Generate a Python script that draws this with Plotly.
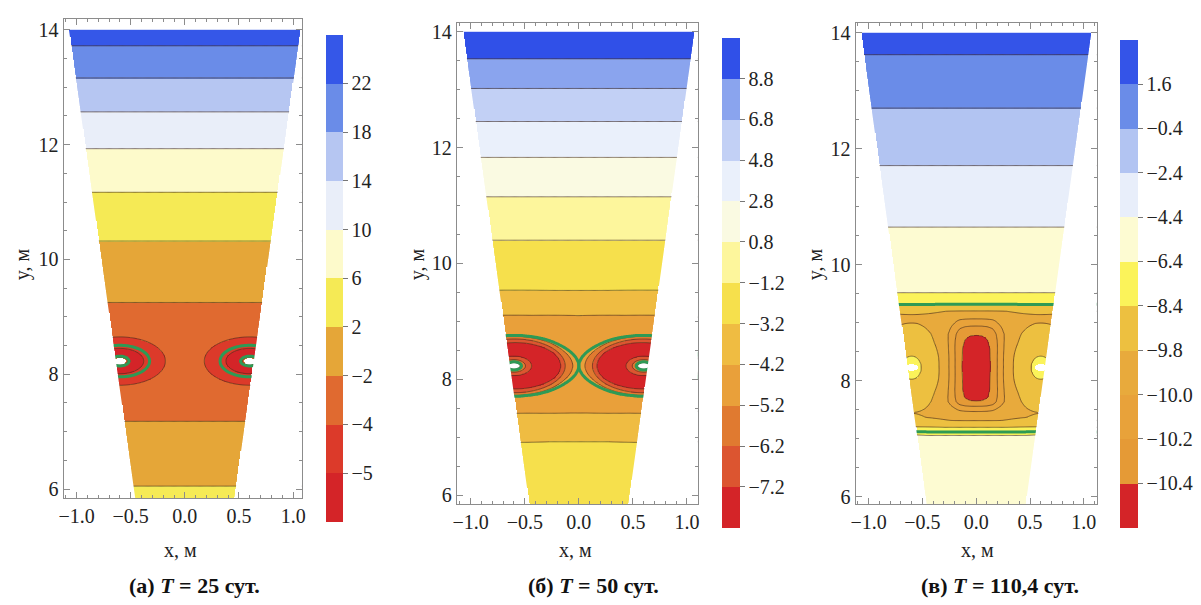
import numpy as np
import plotly.graph_objects as go

FONT = "Liberation Serif, Times New Roman, serif"

# ---------------- domain geometry (trapezoidal cross-section) ----------------
DOMAIN_Y = [5.70, 14.00]
DOMAIN_HALF_WIDTH = [0.447, 1.07]
TUBE_X = [-0.60, 0.60]
TUBE_Y = 8.23
HOLE_R = 0.055

# ---------------- panel (а)  T = 25 сут. ----------------
A_LEVELS = [-5, -4, -2, 2, 6, 10, 14, 18, 22]
A_COLORS = ['#d42428', '#dc3a2a', '#e06a30', '#e5a638', '#f5ea55',
            '#fdfacb', '#e9eef9', '#b6c6f2', '#6a8ce8', '#3557e8']
# heights (centre line) where the isotherms cross, in level-index units
A_PROFILE_Y = [5.70, 6.05, 7.18, 7.60, 8.80, 9.25, 10.32, 11.17, 11.93, 12.57, 13.16, 13.72, 14.00]
A_PROFILE_K = [4.45, 4.00, 3.00, 2.55, 2.55, 3.00, 4.00, 5.00, 6.00, 7.00, 8.00, 9.00, 9.50]
A_TUBE_R = [0.0, 0.055, 0.075, 0.10, 0.14, 0.22, 0.32, 0.42, 0.52, 0.65]
A_TUBE_DK = [0.15, 0.15, -0.85, -1.90, -2.10, -1.55, -1.00, -0.55, -0.20, 0.0]
A_GREEN = [(5.70, 14.00, 1.30)]

# ---------------- panel (б)  T = 50 сут. ----------------
B_LEVELS = [-7.2, -6.2, -5.2, -4.2, -3.2, -1.2, 0.8, 2.8, 4.8, 6.8, 8.8]
B_COLORS = ['#d42428', '#dc5530', '#e07a30', '#e9a03a', '#efbc42', '#f6e04c',
            '#fdf69c', '#fafae2', '#eaf0fb', '#c2d0f5', '#8aa4ee', '#3050e8']
B_PROFILE_Y = [5.70, 6.92, 7.42, 7.75, 8.23, 8.70, 9.10, 9.53, 10.40, 11.15, 11.83, 12.45, 13.02, 13.53, 14.00]
B_PROFILE_K = [5.50, 5.00, 4.12, 3.78, 3.70, 3.75, 4.10, 5.00, 6.00, 7.00, 8.00, 9.00, 10.00, 11.00, 11.60]
B_TUBE_R = [0.0, 0.05, 0.08, 0.12, 0.17, 0.30, 0.43, 0.47, 0.52, 0.56, 0.60, 0.85, 1.05, 1.35]
B_TUBE_DK = [0.6, 0.6, -1.0, -2.0, -2.75, -3.2, -2.6, -1.6, -0.6, -0.4, -0.25, -0.12, -0.05, 0.0]
B_GREEN = [(5.70, 14.00, 3.20)]

# ---------------- panel (в)  T = 110,4 сут. ----------------
C_LEVELS = [-10.4, -10.2, -10.0, -9.8, -8.4, -6.4, -4.4, -2.4, -0.4, 1.6]
C_COLORS = ['#d42428', '#e59a36', '#e8a23a', '#e8aa3c', '#edc040', '#fbf35a',
            '#fdfbd2', '#e8eefa', '#b2c4f2', '#6a8ce8', '#3454e8']
C_PROFILE_Y = [5.70, 7.00, 7.12, 7.20, 7.32, 7.45, 8.25, 9.05, 9.20, 9.32, 9.52, 10.65, 11.71, 12.70, 13.62, 14.00]
C_PROFILE_K = [6.40, 6.10, 5.90, 5.00, 4.00, 3.70, 3.55, 3.70, 4.00, 5.00, 6.00, 7.00, 8.00, 9.00, 10.00, 10.40]
C_TUBE_R = [0.0, 0.05, 0.09, 0.20, 0.30, 0.45, 0.60]
C_TUBE_DK = [2.3, 2.2, 1.45, 1.00, 0.55, 0.12, 0.0]
C_TUBE_ANISO = 2.0
C_CORE_X = [0.0, 0.05, 0.10, 0.15, 0.18, 0.21, 0.25, 0.30, 0.35, 0.42, 0.55]
C_CORE_DK = [3.0, 2.98, 2.85, 2.55, 2.10, 1.55, 1.00, 0.55, 0.28, 0.10, 0.0]
C_CORE_Y = [7.30, 7.40, 7.47, 7.52, 7.56, 7.60, 7.64, 7.72, 7.85, 8.55, 8.70, 8.80, 8.88, 8.95, 9.02, 9.08, 9.15, 9.22]
C_CORE_W = [0.0, 0.08, 0.22, 0.38, 0.55, 0.72, 0.87, 0.96, 1.0, 1.0, 0.95, 0.87, 0.72, 0.55, 0.36, 0.22, 0.08, 0.0]
C_GREEN = [(5.70, 7.60, 5.90), (8.90, 14.00, 5.00)]

TITLES = ['(а) <i>T</i> = 25 сут.', '(б) <i>T</i> = 50 сут.', '(в) <i>T</i> = 110,4 сут.']
LABEL_FMT = ['%d', '%.1f', '%.1f']

# ---------------- grid ----------------
gx = np.round(np.arange(-1.15, 1.1501, 0.01), 4)
gy = np.round(np.arange(DOMAIN_Y[0], DOMAIN_Y[1] + 1e-9, 0.02), 4)
X, Y = np.meshgrid(gx, gy)
HW = np.interp(Y, DOMAIN_Y, DOMAIN_HALF_WIDTH)


def build_field(py, pk, tr, tdk, aniso=1.0, core=None):
    F = np.interp(Y, py, pk)
    for tx in TUBE_X:
        r = np.sqrt((X - tx) ** 2 + ((Y - TUBE_Y) / aniso) ** 2)
        F = F + np.interp(r, tr, tdk)
    if core is not None:
        cx, cdk, cy, cw = core
        F = F - np.interp(np.abs(X), cx, cdk) * np.interp(Y, cy, cw)
    return F


def masked(F):
    Z = F.copy()
    out = np.abs(X) > HW
    for tx in TUBE_X:
        out |= np.sqrt((X - tx) ** 2 + (Y - TUBE_Y) ** 2) < HOLE_R
    Z[out] = np.nan
    return Z.astype(np.float32)


panels = [
    dict(levels=A_LEVELS, colors=A_COLORS, green=A_GREEN,
         F=build_field(A_PROFILE_Y, A_PROFILE_K, A_TUBE_R, A_TUBE_DK)),
    dict(levels=B_LEVELS, colors=B_COLORS, green=B_GREEN,
         F=build_field(B_PROFILE_Y, B_PROFILE_K, B_TUBE_R, B_TUBE_DK)),
    dict(levels=C_LEVELS, colors=C_COLORS, green=C_GREEN,
         F=build_field(C_PROFILE_Y, C_PROFILE_K, C_TUBE_R, C_TUBE_DK, C_TUBE_ANISO,
                       (C_CORE_X, C_CORE_DK, C_CORE_Y, C_CORE_W))),
]

# ---------------- layout geometry (paper fractions) ----------------
XDOM = [[0.0491, 0.2490], [0.3789, 0.5812], [0.7136, 0.9159]]
YDOM = [[0.1719, 0.9719], [0.1620, 0.9653], [0.1620, 0.9653]]
XRANGE = [[-1.12, 1.08], [-1.13, 1.10], [-1.12, 1.12]]
YRANGE = [[5.845, 14.19], [5.846, 14.154], [5.88, 14.17]]
CBAR = [dict(x=0.2689, y=0.5388, len=0.813, thickness=17),
        dict(x=0.6012, y=0.5314, len=0.818, thickness=18),
        dict(x=0.9351, y=0.5298, len=0.815, thickness=18)]
CAP_X = [0.159, 0.494, 0.835]
XT_X = [177, 575, 980]
YT_X = [17, 415, 816]

fig = go.Figure()


def fmt(v, f):
    return (f % v).replace('-', '\u2212')


for i, p in enumerate(panels):
    xa = 'x' if i == 0 else 'x%d' % (i + 1)
    ya = 'y' if i == 0 else 'y%d' % (i + 1)
    n = len(p['colors'])
    cs = []
    for j, c in enumerate(p['colors']):
        cs.append([j / n, c])
        cs.append([(j + 1) / n, c])
    fig.add_trace(go.Heatmap(
        x=gx, y=gy, z=masked(p['F']), zmin=0, zmax=n, colorscale=cs, zsmooth=False,
        xaxis=xa, yaxis=ya, hoverinfo='skip',
        colorbar=dict(x=CBAR[i]['x'], xanchor='left', y=CBAR[i]['y'], yanchor='middle',
                      len=CBAR[i]['len'], lenmode='fraction', thickness=CBAR[i]['thickness'],
                      thicknessmode='pixels', xpad=0, ypad=0, outlinewidth=0,
                      tickmode='array', tickvals=list(range(1, n)),
                      ticktext=[fmt(v, LABEL_FMT[i]) for v in p['levels']],
                      ticks='outside', ticklen=5, tickcolor='#777', tickwidth=1,
                      tickfont=dict(family=FONT, size=20, color='#222'))))
    fig.add_trace(go.Contour(
        x=gx, y=gy, z=p['F'].astype(np.float32), autocontour=False,
        contours=dict(start=1, end=n - 1, size=1, coloring='none'),
        line=dict(color='rgba(70,45,30,0.8)', width=0.8, smoothing=0.8),
        showscale=False, hoverinfo='skip', xaxis=xa, yaxis=ya))
    for (ylo, yhi, lev) in p['green']:
        sel = (gy >= ylo - 1e-9) & (gy <= yhi + 1e-9)
        fig.add_trace(go.Contour(
            x=gx, y=gy[sel], z=p['F'][sel].astype(np.float32), autocontour=False,
            contours=dict(start=lev, end=lev, size=1, coloring='none'),
            line=dict(color='#2e9a55', width=3, smoothing=0.8),
            showscale=False, hoverinfo='skip', xaxis=xa, yaxis=ya))
    # white masks outside the trapezoid
    y0, y1 = -2.0, 16.0
    slope = (DOMAIN_HALF_WIDTH[1] - DOMAIN_HALF_WIDTH[0]) / (DOMAIN_Y[1] - DOMAIN_Y[0])
    hwa = DOMAIN_HALF_WIDTH[0] + slope * (y0 - DOMAIN_Y[0])
    hwb = DOMAIN_HALF_WIDTH[1]
    for sgn in (-1, 1):
        fig.add_trace(go.Scatter(
            x=[sgn * 3, sgn * hwa, sgn * hwb, sgn * hwb, sgn * 3],
            y=[y0, y0, DOMAIN_Y[1], y1, y1], fill='toself', fillcolor='white',
            line=dict(width=0), mode='lines', hoverinfo='skip', showlegend=False,
            xaxis=xa, yaxis=ya))
    fig.add_trace(go.Scatter(
        x=[-3, 3, 3, -3], y=[DOMAIN_Y[1], DOMAIN_Y[1], y1, y1], fill='toself',
        fillcolor='white', line=dict(width=0), mode='lines', hoverinfo='skip',
        showlegend=False, xaxis=xa, yaxis=ya))

    common = dict(showline=True, linecolor='#8c8c8c', linewidth=1, mirror='allticks',
                  ticks='inside', ticklen=6, tickcolor='#8c8c8c', tickwidth=1,
                  showgrid=False, zeroline=False,
                  tickfont=dict(family=FONT, size=20, color='#222'))
    xkey = 'xaxis' if i == 0 else 'xaxis%d' % (i + 1)
    ykey = 'yaxis' if i == 0 else 'yaxis%d' % (i + 1)
    fig.layout[xkey] = dict(domain=XDOM[i], range=XRANGE[i], anchor=ya,
                            tickmode='linear', tick0=0, dtick=0.5, tickformat='.1f',
                            minor=dict(tick0=0, dtick=0.1, ticks='inside', ticklen=3,
                                       tickcolor='#8c8c8c', showgrid=False),
                            **common)
    fig.layout[ykey] = dict(domain=YDOM[i], range=YRANGE[i], anchor=xa,
                            tickmode='linear', tick0=0, dtick=2,
                            minor=dict(tick0=0, dtick=0.5, ticks='inside', ticklen=3,
                                       tickcolor='#8c8c8c', showgrid=False),
                            **common)

anns = []
for i in range(3):
    anns.append(dict(text='<b>' + TITLES[i] + '</b>', x=CAP_X[i], y=1 - 589 / 605,
                     xref='paper', yref='paper', showarrow=False,
                     xanchor='center', yanchor='middle',
                     font=dict(family=FONT, size=22, color='#111')))
    anns.append(dict(text='x, м', x=XT_X[i] / 1201, y=1 - 553 / 605, xref='paper',
                     yref='paper', showarrow=False, xanchor='center', yanchor='middle',
                     font=dict(family=FONT, size=20, color='#222')))
    anns.append(dict(text='y, м', x=YT_X[i] / 1201, y=1 - 265 / 605, xref='paper',
                     yref='paper', showarrow=False, textangle=-90,
                     xanchor='center', yanchor='middle',
                     font=dict(family=FONT, size=20, color='#222')))

fig.update_layout(width=1201, height=605, margin=dict(l=0, r=0, t=0, b=0),
                  paper_bgcolor='white', plot_bgcolor='white', showlegend=False,
                  annotations=anns)

fig.write_html("out.html")
